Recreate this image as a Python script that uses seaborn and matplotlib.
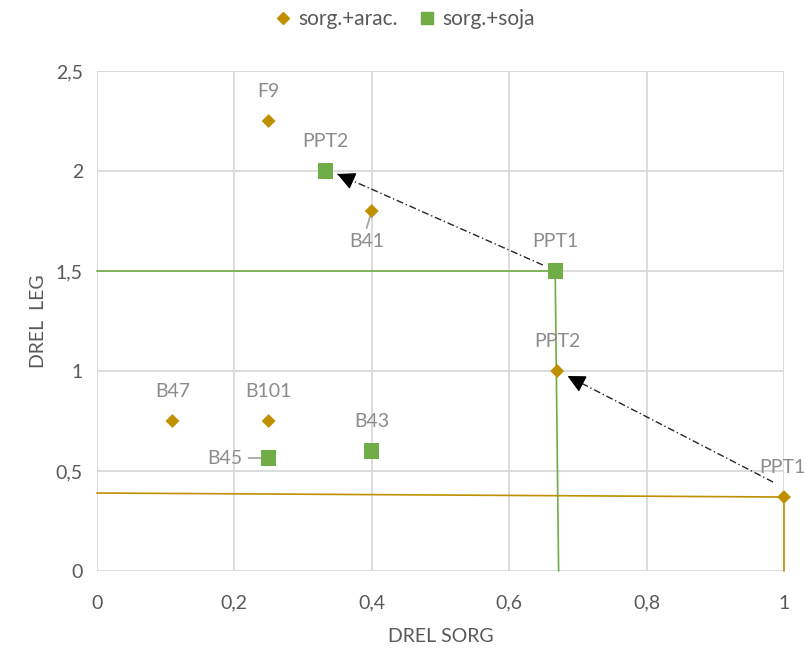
import matplotlib
matplotlib.use("Agg")
import matplotlib.pyplot as plt
import seaborn as sns
import pandas as pd
from matplotlib.lines import Line2D

# ---- data ----
arac_labels = ["F9", "B41", "PPT2", "B47", "B101", "PPT1"]
arac_x = [0.25, 0.40, 0.67, 0.11, 0.25, 1.00]
arac_y = [2.25, 1.80, 1.00, 0.75, 0.75, 0.37]

soja_labels = ["PPT2", "PPT1", "B45", "B43"]
soja_x = [0.333, 0.667, 0.25, 0.40]
soja_y = [2.00, 1.50, 0.565, 0.60]

# reference lines
arac_line_x = [0.0, 1.0, 1.0]
arac_line_y = [0.39, 0.37, 0.0]
soja_line_x = [0.0, 0.667, 0.672]
soja_line_y = [1.50, 1.50, 0.0]

# arrows (start -> end)
arrows = [((0.984, 0.445), (0.685, 0.975)),
          ((0.649, 1.53), (0.350, 1.985))]

x_ticks = [0, 0.2, 0.4, 0.6, 0.8, 1.0]
x_ticklabels = ["0", "0,2", "0,4", "0,6", "0,8", "1"]
y_ticks = [0, 0.5, 1.0, 1.5, 2.0, 2.5]
y_ticklabels = ["0", "0,5", "1", "1,5", "2", "2,5"]

GOLD = "#BF9000"
GREEN = "#70AD47"
GRID = "#D9D9D9"
TXT = "#595959"
LBL = "#8C8C8C"

sns.set_theme(style="white")
plt.rcParams["font.family"] = ["Lato", "DejaVu Sans"]

df = pd.DataFrame({
    "x": arac_x + soja_x,
    "y": arac_y + soja_y,
    "serie": ["sorg.+arac."] * len(arac_x) + ["sorg.+soja"] * len(soja_x),
})

fig = plt.figure(figsize=(8.07, 6.48), dpi=100)
ax = fig.add_axes([0.120, 0.1188, 0.8515, 0.7716])

ax.set_xlim(0, 1)
ax.set_ylim(0, 2.5)
ax.set_xticks(x_ticks)
ax.set_xticklabels(x_ticklabels)
ax.set_yticks(y_ticks)
ax.set_yticklabels(y_ticklabels)
ax.grid(True, color=GRID, linewidth=1.3)
ax.set_axisbelow(True)
for s in ax.spines.values():
    s.set_visible(False)
ax.tick_params(axis="both", length=0, labelsize=14, colors=TXT)
ax.tick_params(axis="x", pad=17)
ax.tick_params(axis="y", pad=10)

ax.plot(arac_line_x, arac_line_y, color=GOLD, linewidth=1.2, zorder=2, clip_on=False)
ax.plot(soja_line_x, soja_line_y, color=GREEN, linewidth=1.2, zorder=2, clip_on=False)

for (x0, y0), (x1, y1) in arrows:
    ax.plot([x0, x1], [y0, y1], color="#262626", linewidth=1.0,
            linestyle=(0, (5, 2, 1, 2)), zorder=3)
    fx = x1 + (x0 - x1) * 0.06
    fy = y1 + (y0 - y1) * 0.06
    ax.annotate("", xy=(x1, y1), xytext=(fx, fy),
                arrowprops=dict(arrowstyle="-|>,head_length=0.9,head_width=0.45",
                                color="black", linewidth=1.0, shrinkA=0, shrinkB=0),
                zorder=3)

sns.scatterplot(data=df, x="x", y="y", hue="serie", style="serie",
                palette={"sorg.+arac.": GOLD, "sorg.+soja": GREEN},
                markers={"sorg.+arac.": "D", "sorg.+soja": "s"},
                size="serie", sizes={"sorg.+arac.": 50, "sorg.+soja": 120},
                linewidth=0, ax=ax, legend=False, zorder=4, clip_on=False)

# data labels
fs = 14
arac_offsets = [(0, 30, "center"), (-5, -30, "center"), (0, 30, "center"),
                (0, 30, "center"), (0, 30, "center"), (-2, 30, "center")]
for lab, x, y, (dx, dy, ha) in zip(arac_labels, arac_x, arac_y, arac_offsets):
    ax.annotate(lab, (x, y), xytext=(dx, dy), textcoords="offset pixels",
                ha=ha, va="center", fontsize=fs, color=LBL, annotation_clip=False)
soja_offsets = [(0, 30, "center"), (0, 30, "center"), (-44, 0, "center"), (0, 30, "center")]
for lab, x, y, (dx, dy, ha) in zip(soja_labels, soja_x, soja_y, soja_offsets):
    ax.annotate(lab, (x, y), xytext=(dx, dy), textcoords="offset pixels",
                ha=ha, va="center", fontsize=fs, color=LBL, annotation_clip=False)
# leader lines
ax.annotate("", xy=(arac_x[1], arac_y[1]), xytext=(-5, -17), textcoords="offset pixels",
            xycoords="data",
            arrowprops=dict(arrowstyle="-", color="#A6A6A6", lw=1.3, shrinkA=0, shrinkB=0))
ax.annotate("", xy=(soja_x[2], soja_y[2]), xytext=(-20, 0), textcoords="offset pixels",
            arrowprops=dict(arrowstyle="-", color="#A6A6A6", lw=1.3, shrinkA=0, shrinkB=0))

ax.set_xlabel("DREL SORG", fontsize=14, color=TXT, labelpad=12)
ax.set_ylabel("DREL  LEG", fontsize=14, color=TXT, labelpad=6)

handles = [Line2D([], [], marker="D", linestyle="", color=GOLD, markersize=6),
           Line2D([], [], marker="s", linestyle="", color=GREEN, markersize=9)]
fig.legend(handles, ["sorg.+arac.", "sorg.+soja"], loc="center",
           bbox_to_anchor=(0.5, 0.97), ncol=2, frameon=False, fontsize=15,
           labelcolor=TXT, handletextpad=0.25, columnspacing=0.9, handlelength=1.0)

fig.savefig("out.png", dpi=100)
